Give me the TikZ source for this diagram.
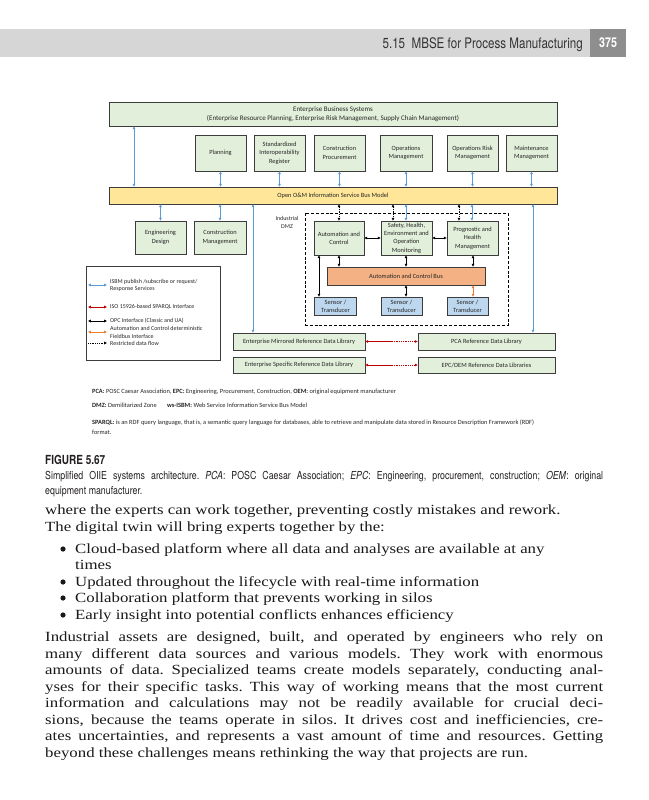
\documentclass[tikz,border=0pt]{standalone}
\usepackage{fontspec}
\setmainfont{Liberation Serif}[FakeStretch=1.2]
\newfontfamily\diag{Carlito}
\newfontfamily\cond{TeX Gyre Heros}[FakeStretch=0.8]
\usetikzlibrary{arrows.meta}
\definecolor{gfill}{HTML}{E2EFDA}
\definecolor{yfill}{HTML}{FFE699}
\definecolor{ofill}{HTML}{F4B183}
\definecolor{bfill}{HTML}{BDD7EE}
\definecolor{bline}{HTML}{5B9BD5}
\definecolor{rline}{HTML}{C00000}
\definecolor{oline}{HTML}{ED7D31}
\definecolor{edge}{HTML}{3C3C3C}
\definecolor{band}{HTML}{D6D6D6}
\definecolor{pagebox}{HTML}{8E8E8E}
\definecolor{captxt}{HTML}{231F20}
\frenchspacing
\begin{document}
\begin{tikzpicture}[x=1pt,y=-1pt,
  box/.style={draw=edge,line width=0.6pt,inner sep=0.5pt,align=center,font=\diag\fontsize{6.4}{8.4}\selectfont,text=black!85},
  gbox/.style={box,fill=gfill},
  bl/.style={draw=bline,line width=0.75pt,<->},
  blk/.style={draw=black,line width=0.75pt,<->},
  dotarr/.style={draw=black,line width=0.75pt,dash pattern=on 1pt off 0.8pt,<->},
  orn/.style={draw=oline,line width=0.9pt,<->},
  rd/.style={draw=rline,line width=0.9pt},
  lab/.style={inner sep=0,font=\diag\fontsize{6}{7.2}\selectfont,align=left,text=black!85},
  foot/.style={inner sep=0,anchor=base west,font=\diag\fontsize{6.4}{7.2}\selectfont,text=black!85},
  body/.style={inner sep=0,anchor=base west,font=\fontsize{14}{16.5}\selectfont,text=black!90},
  dot/.style={circle,fill=black!90,inner sep=0,minimum size=5.2pt},
  capt/.style={inner sep=0,anchor=base west,font=\cond\fontsize{11}{13}\selectfont,text=captxt},
  >={Triangle[length=2.8pt,width=2.6pt]}
]
\fill[white] (0,0) rectangle (648,800);
\useasboundingbox (0,0) rectangle (648,800);

% header
\fill[band] (0,29) rectangle (590,57);
\fill[pagebox] (590,29) rectangle (626,57);
\node[inner sep=0,anchor=base east,font=\cond\fontsize{14.5}{16}\selectfont,text=black!80] (hdr) at (583,48.5) {5.15\ \ MBSE for Process Manufacturing};
\node[inner sep=0,font=\cond\bfseries\fontsize{13.5}{15}\selectfont,text=white] (pg) at (608,43) {375};

% top boxes
\node[gbox,minimum width=448,minimum height=24,font=\diag\fontsize{7}{9}\selectfont] (ebs) at (333,114) {Enterprise Business Systems\\(Enterprise Resource Planning, Enterprise Risk Management, Supply Chain Management)};
\node[gbox,minimum width=51,minimum height=36] (plan) at (220.5,153) {Planning};
\node[gbox,minimum width=51,minimum height=36] (sir) at (279.5,153) {Standardized\\Interoperability\\Register};
\node[gbox,minimum width=51,minimum height=36] (cproc) at (339.5,153) {Construction\\Procurement};
\node[gbox,minimum width=52,minimum height=36] (opm) at (406,153) {Operations\\Management};
\node[gbox,minimum width=51,minimum height=36] (orm) at (472.5,153) {Operations Risk\\Management};
\node[gbox,minimum width=51,minimum height=36] (maint) at (531.5,153) {Maintenance\\Management};
\node[box,fill=yfill,minimum width=448,minimum height=17] (omb) at (333,195.5) {Open O\&M Information Service Bus Model};

\node[gbox,minimum width=51,minimum height=33] (engd) at (160.5,237.5) {Engineering\\Design};
\node[gbox,minimum width=52,minimum height=33] (cman) at (220,237.5) {Construction\\Management};

% DMZ
\node[lab,align=center] (dmzlab) at (287,222.5) {Industrial\\DMZ};
\node[draw=black,line width=0.9pt,dash pattern=on 3pt off 1.8pt,minimum width=203,minimum height=112,inner sep=0] (dmz) at (406.5,269) {};
\node[gbox,minimum width=50,minimum height=34] (ac) at (339,238) {Automation and\\Control};
\node[gbox,minimum width=51,minimum height=34] (sheom) at (406.5,238) {Safety, Health,\\Environment and\\Operation\\Monitoring};
\node[gbox,minimum width=51,minimum height=34] (phm) at (472.5,238) {Prognostic and\\Health\\Management};
\node[box,fill=ofill,minimum width=158,minimum height=18] (acbus) at (406,276) {Automation and Control Bus};
\node[box,fill=bfill,minimum width=42,minimum height=18] (s1) at (335.5,306) {Sensor /\\Transducer};
\node[box,fill=bfill,minimum width=41,minimum height=18] (s2) at (401.5,306) {Sensor /\\Transducer};
\node[box,fill=bfill,minimum width=41,minimum height=18] (s3) at (467.5,306) {Sensor /\\Transducer};

% reference libraries
\node[gbox,minimum width=132,minimum height=17] (emrdl) at (299,341.5) {Enterprise Mirrored Reference Data Library};
\node[gbox,minimum width=137,minimum height=17] (pca) at (486.5,341.5) {PCA Reference Data Library};
\node[gbox,minimum width=132,minimum height=16] (esrdl) at (299,365) {Enterprise Specific Reference Data Library};
\node[gbox,minimum width=137,minimum height=16] (epc) at (486.5,365) {EPC/OEM Reference Data Libraries};

% legend
\node[draw=edge,line width=0.6pt,minimum width=134,minimum height=94,inner sep=0] (legend) at (153,313) {};
\coordinate (l1a) at (88,285); \coordinate (l1b) at (107,285);
\coordinate (l2a) at (88,307); \coordinate (l2b) at (107,307);
\coordinate (l3a) at (88,321); \coordinate (l3b) at (107,321);
\coordinate (l4a) at (88,332); \coordinate (l4b) at (107,332);
\coordinate (l5a) at (88,343); \coordinate (l5b) at (107,343);
\draw[bl] (l1a) -- (l1b);
\draw[rd,<->] (l2a) -- (l2b);
\draw[blk] (l3a) -- (l3b);
\draw[orn] (l4a) -- (l4b);
\draw[draw=black,line width=0.75pt,dash pattern=on 1pt off 0.8pt,->] (l5a) -- (l5b);
\node[lab,anchor=west] (t1) at (110,285) {ISBM publish /subscribe or request/\\Response Services};
\node[lab,anchor=west] (t2) at (110,307) {ISO 15926-based SPARQL Interface};
\node[lab,anchor=west] (t3) at (110,321) {OPC Interface (Classic and UA)};
\node[lab,anchor=west] (t4) at (110,332.5) {Automation and Control deterministic\\Fieldbus Interface};
\node[lab,anchor=west] (t5) at (110,343) {Restricted data flow};

% connectors
\draw[bl] (134,0 |- ebs.south) -- (134,0 |- omb.north);
\foreach \n in {plan,sir,cproc,opm,orm,maint} \draw[bl] (\n.south) -- (\n.south |- omb.north);
\draw[bl] (omb.south -| engd.north) -- (engd.north);
\draw[bl] (omb.south -| cman.north) -- (cman.north);
\draw[bl] (253,0 |- omb.south) -- (253,0 |- emrdl.north);
\draw[bl] (533,0 |- omb.south) -- (533,0 |- pca.north);
\draw[dotarr] (omb.south -| ac.north) -- (ac.north);
\draw[dotarr] (393,0 |- omb.south) -- (393,0 |- sheom.north);
\draw[bl] (406,0 |- omb.south) -- (406,0 |- sheom.north);
\draw[dotarr] (459,0 |- omb.south) -- (459,0 |- phm.north);
\draw[bl] (472,0 |- omb.south) -- (472,0 |- phm.north);
\draw[blk] (ac.east) -- (sheom.west);
\draw[blk] (sheom.east) -- (phm.west);
\draw[blk] (ac.south) -- (ac.south |- acbus.north);
\draw[blk] (406,0 |- sheom.south) -- (406,0 |- acbus.north);
\draw[blk] (473,0 |- phm.south) -- (473,0 |- acbus.north);
\draw[blk] (406,0 |- acbus.south) -- (406,0 |- s2.north);
\draw[orn] (473,0 |- acbus.south) -- (473,0 |- s3.north);
\draw[blk] (319,0 |- ac.south) -- (319,0 |- s1.north);
\coordinate (rm1) at (392,341.5);
\coordinate (rm2) at (392,365);
\draw[rd,<-] (emrdl.east) -- (rm1);
\draw[rd,dash pattern=on 1pt off 0.8pt,->] (rm1) -- (pca.west);
\draw[rd,<-] (esrdl.east) -- (rm2);
\draw[rd,dash pattern=on 1pt off 0.8pt,->] (rm2) -- (epc.west);

% footnotes
\node[foot] (f1) at (92,393) {\textbf{PCA:} POSC Caesar Association, \textbf{EPC:} Engineering, Procurement, Construction, \textbf{OEM:} original equipment manufacturer};
\node[foot] (f2) at (92,407) {\textbf{DMZ:} Demilitarized Zone};
\node[foot] (f3) at ([xshift=10pt]f2.base east) {\textbf{ws-ISBM:} Web Service Information Service Bus Model};
\node[foot] (f4) at (92,424) {\textbf{SPARQL:} is an RDF query language, that is, a semantic query language for databases, able to retrieve and manipulate data stored in Resource Description Framework (RDF)};
\node[foot] (f5) at (92,434) {format.};

% caption
\node[inner sep=0,anchor=base west,font=\cond\bfseries\fontsize{12.5}{14}\selectfont,text=captxt] (fig) at (45,464) {FIGURE 5.67};
\node[capt] (c1) at (45,479) {\makebox[558pt][s]{Simplified OIIE systems architecture. \textit{PCA}: POSC Caesar Association; \textit{EPC}: Engineering, procurement, construction; \textit{OEM}: original}};
\node[capt] (c2) at (45,494) {equipment manufacturer.};

% body
\node[body] (b1) at (45,514) {where the experts can work together, preventing costly mistakes and rework.};
\node[body] (b2) at (45,531) {The digital twin will bring experts together by the:};
\node[dot] (d1) at (63,549) {};
\node[body] (u1) at (75,553) {Cloud-based platform where all data and analyses are available at any};
\node[body] (u1b) at (75,569) {times};
\node[dot] (d2) at (63,582) {};
\node[body] (u2) at (75,586) {Updated throughout the lifecycle with real-time information};
\node[dot] (d3) at (63,598) {};
\node[body] (u3) at (75,602) {Collaboration platform that prevents working in silos};
\node[dot] (d4) at (63,615) {};
\node[body] (u4) at (75,619) {Early insight into potential conflicts enhances efficiency};
\node[body] (p1) at (45,641) {\makebox[558pt][s]{Industrial assets are designed, built, and operated by engineers who rely on}};
\node[body] (p2) at (45,658) {\makebox[558pt][s]{many different data sources and various models. They work with enormous}};
\node[body] (p3) at (45,674) {\makebox[558pt][s]{amounts of data. Specialized teams create models separately, conducting anal-}};
\node[body] (p4) at (45,691) {\makebox[558pt][s]{yses for their specific tasks. This way of working means that the most current}};
\node[body] (p5) at (45,707) {\makebox[558pt][s]{information and calculations may not be readily available for crucial deci-}};
\node[body] (p6) at (45,724) {\makebox[558pt][s]{sions, because the teams operate in silos. It drives cost and inefficiencies, cre-}};
\node[body] (p7) at (45,740) {\makebox[558pt][s]{ates uncertainties, and represents a vast amount of time and resources. Getting}};
\node[body] (p8) at (45,757) {beyond these challenges means rethinking the way that projects are run.};
\end{tikzpicture}
\end{document}
